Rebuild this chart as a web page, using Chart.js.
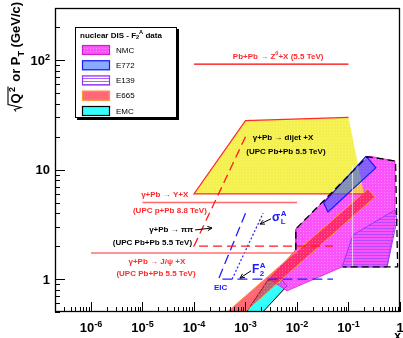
<!DOCTYPE html>
<html>
<head>
<meta charset="utf-8">
<script src="https://cdn.jsdelivr.net/npm/chart.js@4.4.0/dist/chart.umd.min.js"></script>
<style>
  html, body { margin: 0; padding: 0; background: #fff; }
  canvas { display: block; }
</style>
</head>
<body>
<canvas id="chart" width="403" height="338"></canvas>
<script>
// axes
const xRange = [2e-7, 1];
const yRange = [0.5, 300];
const xTickValues = [1e-6, 1e-5, 1e-4, 1e-3, 1e-2, 1e-1, 1];
const xTickBase = ['10', '10', '10', '10', '10', '10', '1'];
const xTickExp = ['-6', '-5', '-4', '-3', '-2', '-1', ''];
const yTickValues = [1, 10, 100];
const yTickBase = ['1', '10', '10'];
const yTickExp = ['', '', '2'];

// nuclear DIS F2A data regions (x, sqrt(Q2))
const nmcX = [2.9e-3, 6.4e-3, 0.075, 0.56, 0.8, 0.8, 0.25, 9.5e-3, 9.5e-3];
const nmcY = [1.0, 0.78, 1.29, 1.29, 3.33, 12, 13.3, 2.87, 1.85];
const e772X = [0.22, 0.34, 0.04, 0.033];
const e772Y = [13.3, 10.4, 4.1, 4.96];
const e139X = [0.075, 0.122, 0.8, 0.875, 0.56];
const e139Y = [1.29, 2.53, 4.28, 3.47, 1.29];
const e665X = [4.2e-4, 0.239, 0.327, 9.3e-4];
const e665Y = [0.49, 6.66, 5.63, 0.49];
const emcX = [9.8e-4, 2.7e-3, 4.7e-3, 6.4e-3, 2.0e-3];
const emcY = [0.48, 0.97, 1.03, 0.865, 0.48];
const outlineX = [9.5e-3, 9.5e-3, 0.229, 0.82, 0.9, 0.078];
const outlineY = [1.85, 2.87, 13.1, 12, 1.29, 1.29];

// LHC / EIC reach
const dijetX = [1e-4, 1e-3, 0.1, 0.2];
const dijetY = [6, 28, 30, 6];
const zX = [1e-4, 0.1];
const zY = [92, 92];
const upsX = [1e-5, 1e-2];
const upsY = [5, 5];
const jpsiX = [1e-6, 1e-2];
const jpsiY = [1.73, 1.73];
const pipiX = [1e-3, 1e-4, 0.05];
const pipiY = [20, 2, 2];
const eicF2X = [1e-3, 3e-4, 0.05];
const eicF2Y = [4, 1, 1];
const eicFLX = [5.5e-4, 2.2e-3];
const eicFLY = [1, 4];
const gapX = [0.12, 0.12];
const gapY = [1.29, 11];

const RED = '#ff2a2a';
const BLUE = '#2020ff';
const FONT = '"Liberation Sans", Arial, sans-serif';

const canvas = document.getElementById('chart');
const mainCtx = canvas.getContext('2d');

function tile(size, draw) {
  const c = document.createElement('canvas');
  c.width = c.height = size;
  draw(c.getContext('2d'));
  return mainCtx.createPattern(c, 'repeat');
}
const dots = (base, dot) => tile(3, (g) => {
  g.fillStyle = base; g.fillRect(0, 0, 3, 3);
  g.fillStyle = dot; g.fillRect(0, 0, 1, 1);
});
const hatch = (line, bg) => tile(3, (g) => {
  if (bg) { g.fillStyle = bg; g.fillRect(0, 0, 3, 3); }
  g.fillStyle = line; g.fillRect(0, 0, 3, 1);
});

const nmcFill = dots('rgba(250,40,250,0.8)', 'rgba(255,150,255,0.8)');
const e665Fill = dots('rgba(255,20,45,0.65)', 'rgba(255,130,130,0.65)');
const dijetFill = dots('rgba(240,235,20,0.75)', 'rgba(250,250,120,0.75)');
const e139Fill = hatch('rgba(165,70,255,0.85)');
const e139Swatch = hatch('rgba(165,70,255,0.85)', '#fff');

function pts(xs, ys, closed) {
  const data = xs.map((x, i) => ({ x, y: ys[i] }));
  if (closed) data.push(data[0]);
  return data;
}
function region(label, xs, ys, style) {
  return { label, data: pts(xs, ys, true), fill: 'shape', showLine: true, pointRadius: 0, clip: 0, ...style };
}
function curve(label, xs, ys, style) {
  return { label, data: pts(xs, ys, false), fill: false, showLine: true, pointRadius: 0, clip: 0, ...style };
}
// dijet border is open on its high-x side
const edge = [3, 0, 1, 2];

const datasets = [
  curve('Z0', zX, zY, { borderColor: '#ff0000', borderWidth: 1.3, order: 0 }),
  curve('pipi', pipiX, pipiY, { borderColor: '#ff1a1a', borderWidth: 1.3, borderDash: [9, 5], order: 0 }),
  curve('upsilon', upsX, upsY, { borderColor: '#ff6a6a', borderWidth: 1.5, order: 0 }),
  curve('jpsi', jpsiX, jpsiY, { borderColor: '#ff7070', borderWidth: 1.5, order: 0 }),
  curve('EIC F2', eicF2X, eicF2Y, { borderColor: BLUE, borderWidth: 1.3, borderDash: [10, 5], order: 0 }),
  curve('EIC FL', eicFLX, eicFLY, { borderColor: BLUE, borderWidth: 1.2, borderDash: [2, 2], order: 0 }),
  curve('outline', outlineX, outlineY, { borderColor: '#000', borderWidth: 1.3, borderDash: [7, 4], order: 1 }),
  curve('gap', gapX, gapY, { borderColor: 'rgba(255,255,255,0.7)', borderWidth: 1, order: 1 }),
  region('E772', e772X, e772Y, { backgroundColor: 'rgba(40,100,255,0.55)', borderColor: '#1a1aff', borderWidth: 1.2, order: 2 }),
  curve('dijet edge', edge.map((i) => dijetX[i]), edge.map((i) => dijetY[i]), { borderColor: RED, borderWidth: 1.2, order: 3 }),
  region('dijet', dijetX, dijetY, { backgroundColor: dijetFill, borderWidth: 0, order: 3.5 }),
  region('E665', e665X, e665Y, { backgroundColor: e665Fill, borderColor: '#ff9933', borderWidth: 1, order: 4 }),
  region('E139', e139X, e139Y, { backgroundColor: e139Fill, borderColor: '#9933ff', borderWidth: 1, order: 5 }),
  region('NMC', nmcX, nmcY, { backgroundColor: nmcFill, borderColor: '#cc22cc', borderWidth: 0.8, order: 6 }),
  region('EMC', emcX, emcY, { backgroundColor: '#33ffff', borderColor: '#000', borderWidth: 1, order: 7 }),
];

// labels placed at data coordinates
const notes = [
  { x: 4.3e-3, y: 107, color: RED, parts: [['Pb+Pb \u2192 Z'], ['0', 'sup'], ['+X (5.5 TeV)']] },
  { x: 5.35e-3, y: 19.5, color: '#000', parts: [['\u03b3+Pb \u2192 dijet +X']] },
  { x: 6.1e-3, y: 14.5, color: '#000', parts: [['(UPC Pb+Pb 5.5 TeV)']] },
  { x: 2.7e-5, y: 5.86, color: RED, parts: [['\u03b3+Pb \u2192 \u03a5+X']] },
  { x: 3.4e-5, y: 4.19, color: RED, parts: [['(UPC p+Pb 8.8 TeV)']] },
  { x: 3.6e-5, y: 2.81, color: '#000', parts: [['\u03b3+Pb \u2192 \u03c0\u03c0']] },
  { x: 1.56e-5, y: 2.14, color: '#000', parts: [['(UPC Pb+Pb 5.5 TeV)']] },
  { x: 1.9e-5, y: 1.43, color: RED, parts: [['\u03b3+Pb \u2192 J/\u03c8 +X']] },
  { x: 1.83e-5, y: 1.11, color: RED, parts: [['(UPC Pb+Pb 5.5 TeV)']] },
  { x: 3.3e-4, y: 0.83, color: BLUE, parts: [['EIC']] },
];
const arrows = [
  { from: [1.05e-4, 2.81], to: [2.24e-4, 2.93] },
  { from: [3.13e-3, 3.55], to: [1.91e-3, 3.18] },
  { from: [1.28e-3, 1.19], to: [7.8e-4, 1.02] },
];
const symbols = [
  { x: 1.34e-3, y: 1.21, main: 'F', sup: 'A', sub: '2' },
  { x: 3.27e-3, y: 3.62, main: '\u03c3', sup: 'A', sub: 'L' },
];
const legendLabels = ['NMC', 'E772', 'E139', 'E665', 'EMC'];

function rich(ctx, parts, x, y, size, align) {
  const widths = parts.map(([t, m]) => {
    ctx.font = `bold ${m ? size * 0.7 : size}px ${FONT}`;
    return ctx.measureText(t).width;
  });
  const total = widths.reduce((a, b) => a + b, 0);
  let u = align === 'center' ? x - total / 2 : align === 'right' ? x - total : x;
  ctx.textAlign = 'left';
  parts.forEach(([t, m], i) => {
    ctx.font = `bold ${m ? size * 0.7 : size}px ${FONT}`;
    const dy = m === 'sup' ? -size * 0.4 : m === 'sub' ? size * 0.3 : 0;
    ctx.fillText(t, u, y + dy);
    u += widths[i];
  });
  return total;
}

function drawArrow(ctx, x0, y0, x1, y1) {
  const a = Math.atan2(y1 - y0, x1 - x0);
  ctx.beginPath();
  ctx.moveTo(x0, y0); ctx.lineTo(x1, y1);
  ctx.moveTo(x1 - 5 * Math.cos(a - 0.45), y1 - 5 * Math.sin(a - 0.45));
  ctx.lineTo(x1, y1);
  ctx.lineTo(x1 - 5 * Math.cos(a + 0.45), y1 - 5 * Math.sin(a + 0.45));
  ctx.stroke();
}

const decor = {
  id: 'decor',
  afterDatasetsDraw(chart) {
    const { ctx, scales: { x, y } } = chart;
    ctx.save();
    ctx.textBaseline = 'middle';
    notes.forEach((n) => {
      ctx.fillStyle = n.color;
      rich(ctx, n.parts, x.getPixelForValue(n.x), y.getPixelForValue(n.y), 8, 'center');
    });
    ctx.strokeStyle = '#000';
    ctx.lineWidth = 1;
    arrows.forEach((a) => drawArrow(ctx,
      x.getPixelForValue(a.from[0]), y.getPixelForValue(a.from[1]),
      x.getPixelForValue(a.to[0]), y.getPixelForValue(a.to[1])));
    ctx.fillStyle = BLUE;
    symbols.forEach((s) => {
      const px = x.getPixelForValue(s.x);
      const py = y.getPixelForValue(s.y);
      ctx.font = `bold 12px ${FONT}`;
      ctx.textAlign = 'left';
      ctx.fillText(s.main, px, py);
      const w = ctx.measureText(s.main).width + 0.5;
      ctx.font = `bold 8px ${FONT}`;
      ctx.fillText(s.sup, px + w, py - 4.5);
      ctx.fillText(s.sub, px + w, py + 4);
    });
    drawLegend(chart);
    ctx.restore();
  },
  afterDraw(chart) {
    drawAxes(chart);
  },
};

function drawLegend(chart) {
  const { ctx } = chart;
  const L = 75, T = 27, W = 102, H = 91;
  ctx.save();
  ctx.fillStyle = '#000';
  ctx.fillRect(L + 2, T + 2, W, H);
  ctx.fillStyle = '#fff';
  ctx.fillRect(L, T, W, H);
  ctx.strokeStyle = '#000';
  ctx.lineWidth = 1;
  ctx.strokeRect(L + 0.5, T + 0.5, W - 1, H - 1);
  ctx.textBaseline = 'middle';
  ctx.fillStyle = '#000';
  rich(ctx, [['nuclear DIS - F'], ['2', 'sub'], ['A', 'sup'], [' data']], 80, 35.5, 8, 'left');
  legendLabels.forEach((label, i) => {
    const ds = chart.data.datasets.find((d) => d.label === label);
    const cy = 50 + i * 15.25;
    ctx.fillStyle = '#fff';
    ctx.fillRect(82, cy - 5, 28, 10);
    ctx.fillStyle = label === 'E139' ? e139Swatch : ds.backgroundColor;
    ctx.fillRect(82, cy - 5, 28, 10);
    ctx.strokeStyle = ds.borderColor;
    ctx.lineWidth = 1.2;
    ctx.strokeRect(82.5, cy - 4.5, 27, 9);
    ctx.fillStyle = '#000';
    ctx.font = `8px ${FONT}`;
    ctx.textAlign = 'left';
    ctx.fillText(label, 116, cy + 0.5);
  });
  ctx.restore();
}

function drawAxes(chart) {
  const { ctx, chartArea: a, scales: { x, y } } = chart;
  ctx.save();
  ctx.strokeStyle = '#000';
  ctx.lineWidth = 1;
  ctx.beginPath();
  for (let e = -7; e <= 0; e++) {
    for (let m = 1; m <= 9; m++) {
      const v = m * Math.pow(10, e);
      if (v < xRange[0] * 0.999 || v > xRange[1] * 1.001) continue;
      const px = Math.round(x.getPixelForValue(v)) + 0.5;
      ctx.moveTo(px, a.bottom);
      ctx.lineTo(px, a.bottom - (m === 1 ? 10 : 5));
    }
  }
  for (let e = -1; e <= 2; e++) {
    for (let m = 1; m <= 9; m++) {
      const v = m * Math.pow(10, e);
      if (v < yRange[0] * 0.999 || v > yRange[1] * 1.001) continue;
      const py = Math.round(y.getPixelForValue(v)) + 0.5;
      ctx.moveTo(a.left, py);
      ctx.lineTo(a.left + (m === 1 ? 10 : 5), py);
    }
  }
  ctx.stroke();
  ctx.lineWidth = 1.3;
  ctx.strokeRect(a.left + 0.5, a.top + 0.5, a.right - a.left - 1, a.bottom - a.top - 1);

  ctx.fillStyle = '#000';
  ctx.textBaseline = 'alphabetic';
  xTickValues.forEach((v, i) => {
    const px = x.getPixelForValue(v);
    const parts = xTickExp[i] ? [[xTickBase[i]], [xTickExp[i], 'sup']] : [[xTickBase[i]]];
    rich(ctx, parts, px, 332, 13, 'center');
  });
  yTickValues.forEach((v, i) => {
    const py = y.getPixelForValue(v);
    const parts = yTickExp[i] ? [[yTickBase[i]], [yTickExp[i], 'sup']] : [[yTickBase[i]]];
    rich(ctx, parts, 50, py + 4.7, 13, 'right');
  });
  ctx.font = `bold 12px ${FONT}`;
  ctx.textAlign = 'right';
  ctx.fillText('x', 401, 340);

  // y title: sqrt(Q^2) or pT (GeV/c)
  ctx.translate(20, 112);
  ctx.rotate(-Math.PI / 2);
  ctx.textAlign = 'left';
  ctx.font = `bold 13px ${FONT}`;
  let u = 8.5;
  ctx.fillText('Q', u, 0);
  u += ctx.measureText('Q').width + 1.5;
  ctx.font = `bold 9px ${FONT}`;
  ctx.fillText('2', u, -5.5);
  u += ctx.measureText('2').width + 0.5;
  ctx.lineWidth = 1.1;
  ctx.beginPath();
  ctx.moveTo(0.5, -4); ctx.lineTo(2.5, -5.5); ctx.lineTo(4.5, 1); ctx.lineTo(7.5, -12); ctx.lineTo(u, -12);
  ctx.stroke();
  u += 1;
  ctx.font = `bold 13px ${FONT}`;
  ctx.fillText(' or P', u, 0);
  u += ctx.measureText(' or P').width;
  ctx.font = `bold 9px ${FONT}`;
  ctx.fillText('T', u, 3.5);
  u += ctx.measureText('T').width;
  ctx.font = `bold 13px ${FONT}`;
  ctx.fillText(' (GeV/c)', u, 0);
  ctx.restore();
}

new Chart(canvas, {
  type: 'scatter',
  data: { datasets },
  options: {
    responsive: false,
    animation: false,
    events: [],
    layout: { padding: { left: 55, right: 3, top: 8, bottom: 26 } },
    plugins: { legend: { display: false }, tooltip: { enabled: false } },
    scales: {
      x: { type: 'logarithmic', min: xRange[0], max: xRange[1], display: false },
      y: { type: 'logarithmic', min: yRange[0], max: yRange[1], display: false },
    },
  },
  plugins: [decor],
});
</script>
</body>
</html>
